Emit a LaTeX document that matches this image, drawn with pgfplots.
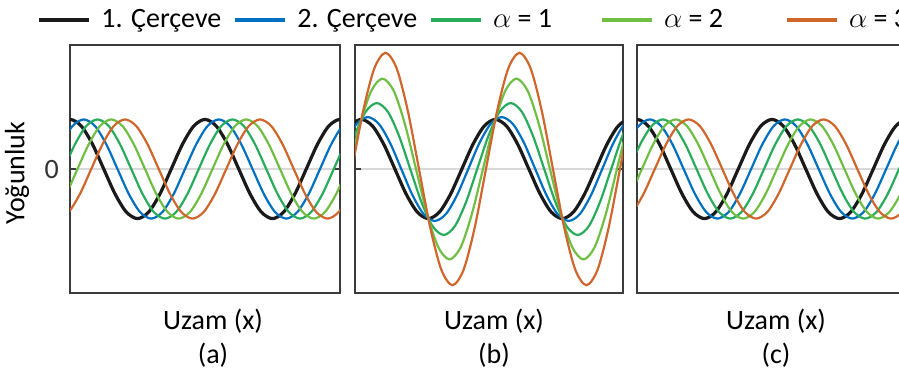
\documentclass[border=0pt]{standalone}
\usepackage{fontspec}
\setmainfont{Carlito}
\usepackage{pgfplots}
\usepackage{pgfplotstable}
\pgfplotsset{compat=1.18}
\definecolor{cBlack}{RGB}{26,26,26}
\definecolor{cBlue}{RGB}{0,112,192}
\definecolor{cGreen}{RGB}{40,172,92}
\definecolor{cLGreen}{RGB}{112,190,68}
\definecolor{cOrange}{RGB}{207,102,44}
\definecolor{cFrame}{RGB}{60,60,60}

\pgfplotstableread{
x y
-1.047 0.5
-0.524 0.866
0 1
0.524 0.866
1.047 0.5
1.571 0
2.094 -0.5
2.618 -0.866
3.142 -1
3.665 -0.866
4.189 -0.5
4.712 0
5.236 0.5
5.760 0.866
6.283 1
6.807 0.866
7.330 0.5
7.854 0
8.378 -0.5
8.901 -0.866
9.425 -1
9.948 -0.866
10.472 -0.5
10.996 0
11.519 0.5
12.043 0.866
12.566 1
13.090 0.866
13.614 0.5
}\blackwave

\pgfplotsset{
  panel/.style={
    scale only axis, width=135pt, height=124pt,
    ymin=-2.5, ymax=2.5,
    xtick=\empty, ytick={0}, yticklabels={},
    ymajorgrids, grid style={black!15, line width=1pt},
    axis line style={cFrame, line width=1.3pt},
    major tick length=3pt,
    tick style={cFrame, line width=0.8pt},
    /pgf/number format/assume math mode=true,
    font=\fontsize{14}{17}\selectfont,
    xlabel style={align=center, at={(axis description cs:0.5,0)}, anchor=north, inner sep=0pt, yshift=-8pt},
  },
  sBlack/.style={cBlack, line width=1.6pt, smooth, no markers},
  sBlue/.style={cBlue, line width=1.1pt, smooth, no markers},
  sGreen/.style={cGreen, line width=1.1pt, smooth, no markers},
  sLGreen/.style={cLGreen, line width=1.1pt, smooth, no markers},
  sOrange/.style={cOrange, line width=1.1pt, smooth, no markers},
}

\begin{document}
\begin{tikzpicture}
% ---------------- (a)
\begin{axis}[panel, at={(35pt,-146.5pt)}, anchor=south west,
  xmin=0, xmax=12.566,
  yticklabels={0}, yticklabel style={xshift=-2pt, text=black!80},
  xlabel={Uzam (x)\\(a)}, xlabel style={xshift=4pt},
  ylabel={Yoğunluk}, ylabel style={at={(axis description cs:-0.196,0.484)}, anchor=center},
  legend columns=5,
  legend image code/.code={\draw[#1, line width=2pt] (0pt,0pt) -- (25pt,0pt);},
  legend style={at={(axis description cs:-0.122,1.102)}, anchor=west, draw=none, fill=none,
    inner sep=0pt, nodes={inner sep=0pt}, font=\fontsize{14}{17}\selectfont,
    /tikz/every odd column/.append style={column sep=5pt},
    /tikz/every even column/.append style={column sep=6pt}},
]
\addplot[sBlack] table {\blackwave};
\addplot[sBlue] coordinates {(-0.931,0) (-0.407,0.5) (0.116,0.866) (0.640,1) (1.164,0.866) (1.687,0.5) (2.211,0) (2.734,-0.5) (3.258,-0.866) (3.782,-1) (4.305,-0.866) (4.829,-0.5) (5.352,0) (5.876,0.5) (6.400,0.866) (6.923,1) (7.447,0.866) (7.970,0.5) (8.494,0) (9.018,-0.5) (9.541,-0.866) (10.065,-1) (10.588,-0.866) (11.112,-0.5) (11.636,0) (12.159,0.5) (12.683,0.866) (13.206,1)};
\addplot[sGreen] coordinates {(-0.814,-0.5) (-0.291,0) (0.233,0.5) (0.756,0.866) (1.280,1) (1.804,0.866) (2.327,0.5) (2.851,0) (3.374,-0.5) (3.898,-0.866) (4.422,-1) (4.945,-0.866) (5.469,-0.5) (5.992,0) (6.516,0.5) (7.040,0.866) (7.563,1) (8.087,0.866) (8.610,0.5) (9.134,0) (9.658,-0.5) (10.181,-0.866) (10.705,-1) (11.228,-0.866) (11.752,-0.5) (12.276,0) (12.799,0.5) (13.323,0.866)};
\addplot[sLGreen] coordinates {(-1.222,-1) (-0.698,-0.866) (-0.174,-0.5) (0.349,0) (0.873,0.5) (1.396,0.866) (1.920,1) (2.444,0.866) (2.967,0.5) (3.491,0) (4.014,-0.5) (4.538,-0.866) (5.062,-1) (5.585,-0.866) (6.109,-0.5) (6.632,0) (7.156,0.5) (7.680,0.866) (8.203,1) (8.727,0.866) (9.250,0.5) (9.774,0) (10.298,-0.5) (10.821,-0.866) (11.345,-1) (11.868,-0.866) (12.392,-0.5) (12.916,0) (13.439,0.5)};
\addplot[sOrange] coordinates {(-1.105,-0.866) (-0.582,-1) (-0.058,-0.866) (0.466,-0.5) (0.989,0) (1.513,0.5) (2.036,0.866) (2.560,1) (3.084,0.866) (3.607,0.5) (4.131,0) (4.654,-0.5) (5.178,-0.866) (5.702,-1) (6.225,-0.866) (6.749,-0.5) (7.272,0) (7.796,0.5) (8.320,0.866) (8.843,1) (9.367,0.866) (9.890,0.5) (10.414,0) (10.938,-0.5) (11.461,-0.866) (11.985,-1) (12.508,-0.866) (13.032,-0.5) (13.556,0)};
\legend{1. Çerçeve, 2. Çerçeve, \makebox[47.5pt][l]{$\alpha$ = 1}, \makebox[54.5pt][l]{$\alpha$ = 2}, $\alpha$ = 3}
\end{axis}
% ---------------- (b)
\begin{axis}[panel, at={(177.5pt,-146.5pt)}, anchor=south west, width=134pt,
  xmin=-0.3, xmax=12.27,
  xlabel={Uzam (x)\\(b)}, xlabel style={xshift=2.5pt},
]
\addplot[sBlack] table {\blackwave};
\addplot[sBlue] coordinates {(-1.271,0) (-0.747,0.524) (-0.224,0.907) (0.300,1.047) (0.824,0.907) (1.347,0.524) (1.871,0) (2.394,-0.524) (2.918,-0.907) (3.442,-1.047) (3.965,-0.907) (4.489,-0.524) (5.012,0) (5.536,0.524) (6.060,0.907) (6.583,1.047) (7.107,0.907) (7.630,0.524) (8.154,0) (8.678,-0.524) (9.201,-0.907) (9.725,-1.047) (10.248,-0.907) (10.772,-0.524) (11.296,0) (11.819,0.524) (12.343,0.907) (12.866,1.047)};
\addplot[sGreen] coordinates {(-1.374,-0.665) (-0.851,0) (-0.327,0.665) (0.196,1.152) (0.720,1.330) (1.244,1.152) (1.767,0.665) (2.291,0) (2.814,-0.665) (3.338,-1.152) (3.862,-1.330) (4.385,-1.152) (4.909,-0.665) (5.432,0) (5.956,0.665) (6.480,1.152) (7.003,1.330) (7.527,1.152) (8.050,0.665) (8.574,0) (9.098,-0.665) (9.621,-1.152) (10.145,-1.330) (10.668,-1.152) (11.192,-0.665) (11.716,0) (12.239,0.665) (12.763,1.152)};
\addplot[sLGreen] coordinates {(-1.104,-0.911) (-0.581,0) (-0.057,0.911) (0.466,1.578) (0.990,1.822) (1.514,1.578) (2.037,0.911) (2.561,0) (3.084,-0.911) (3.608,-1.578) (4.132,-1.822) (4.655,-1.578) (5.179,-0.911) (5.702,0) (6.226,0.911) (6.750,1.578) (7.273,1.822) (7.797,1.578) (8.320,0.911) (8.844,0) (9.368,-0.911) (9.891,-1.578) (10.415,-1.822) (10.938,-1.578) (11.462,-0.911) (11.986,0) (12.509,0.911)};
\addplot[sOrange] coordinates {(-1.488,-2.029) (-0.964,-1.172) (-0.441,0) (0.083,1.172) (0.606,2.029) (1.130,2.343) (1.654,2.029) (2.177,1.172) (2.701,0) (3.224,-1.172) (3.748,-2.029) (4.272,-2.343) (4.795,-2.029) (5.319,-1.172) (5.842,0) (6.366,1.172) (6.890,2.029) (7.413,2.343) (7.937,2.029) (8.460,1.172) (8.984,0) (9.508,-1.172) (10.031,-2.029) (10.555,-2.343) (11.078,-2.029) (11.602,-1.172) (12.126,0) (12.649,1.172)};
\end{axis}
% ---------------- (c)
\begin{axis}[panel, at={(318.5pt,-146.5pt)}, anchor=south west,
  xmin=0, xmax=12.566,
  xlabel={Uzam (x)\\(c)}, xlabel style={xshift=2pt},
]
\addplot[sBlack] table {\blackwave};
\addplot[sBlue] coordinates {(-0.971,0) (-0.447,0.5) (0.076,0.866) (0.600,1) (1.124,0.866) (1.647,0.5) (2.171,0) (2.694,-0.5) (3.218,-0.866) (3.742,-1) (4.265,-0.866) (4.789,-0.5) (5.312,0) (5.836,0.5) (6.360,0.866) (6.883,1) (7.407,0.866) (7.930,0.5) (8.454,0) (8.978,-0.5) (9.501,-0.866) (10.025,-1) (10.548,-0.866) (11.072,-0.5) (11.596,0) (12.119,0.5) (12.643,0.866) (13.166,1)};
\addplot[sGreen] coordinates {(-0.894,-0.5) (-0.371,0) (0.153,0.5) (0.676,0.866) (1.200,1) (1.724,0.866) (2.247,0.5) (2.771,0) (3.294,-0.5) (3.818,-0.866) (4.342,-1) (4.865,-0.866) (5.389,-0.5) (5.912,0) (6.436,0.5) (6.960,0.866) (7.483,1) (8.007,0.866) (8.530,0.5) (9.054,0) (9.578,-0.5) (10.101,-0.866) (10.625,-1) (11.148,-0.866) (11.672,-0.5) (12.196,0) (12.719,0.5) (13.243,0.866)};
\addplot[sLGreen] coordinates {(-1.342,-1) (-0.818,-0.866) (-0.294,-0.5) (0.229,0) (0.753,0.5) (1.276,0.866) (1.800,1) (2.324,0.866) (2.847,0.5) (3.371,0) (3.894,-0.5) (4.418,-0.866) (4.942,-1) (5.465,-0.866) (5.989,-0.5) (6.512,0) (7.036,0.5) (7.560,0.866) (8.083,1) (8.607,0.866) (9.130,0.5) (9.654,0) (10.178,-0.5) (10.701,-0.866) (11.225,-1) (11.748,-0.866) (12.272,-0.5) (12.796,0) (13.319,0.5)};
\addplot[sOrange] coordinates {(-1.265,-0.866) (-0.742,-1) (-0.218,-0.866) (0.306,-0.5) (0.829,0) (1.353,0.5) (1.876,0.866) (2.400,1) (2.924,0.866) (3.447,0.5) (3.971,0) (4.494,-0.5) (5.018,-0.866) (5.542,-1) (6.065,-0.866) (6.589,-0.5) (7.112,0) (7.636,0.5) (8.160,0.866) (8.683,1) (9.207,0.866) (9.730,0.5) (10.254,0) (10.778,-0.5) (11.301,-0.866) (11.825,-1) (12.348,-0.866) (12.872,-0.5) (13.396,0)};
\end{axis}
\pgfresetboundingbox
\useasboundingbox (0pt,0pt) rectangle (449.5pt,-185.5pt);
\end{tikzpicture}
\end{document}
